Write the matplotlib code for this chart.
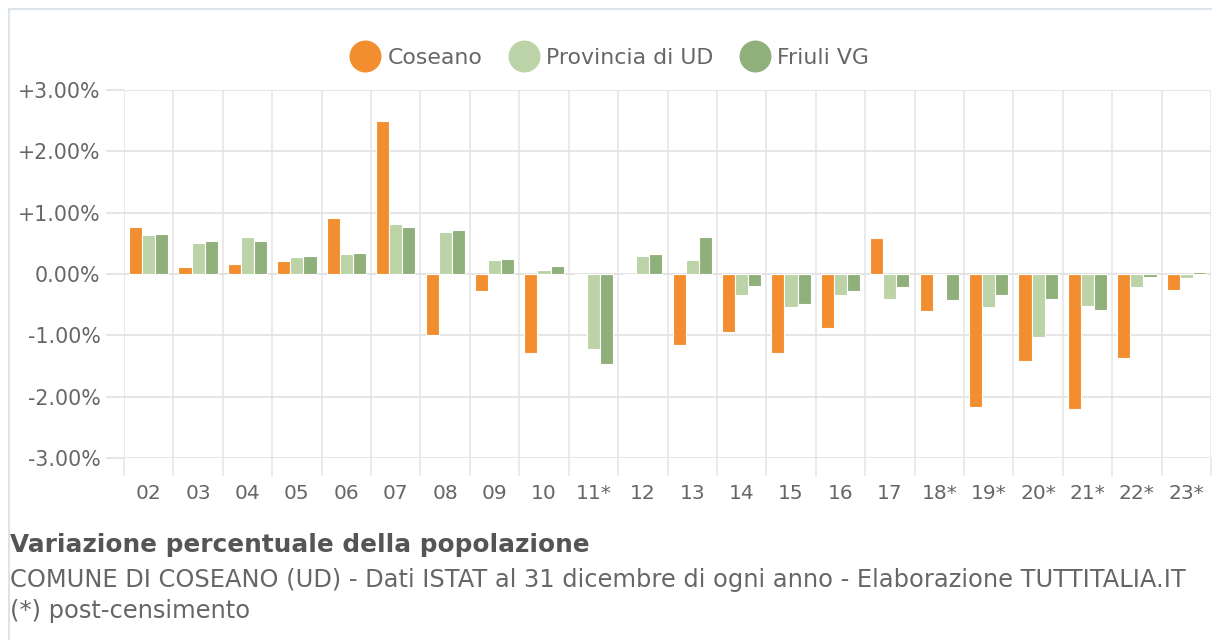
import numpy as np
import matplotlib.pyplot as plt
from matplotlib.lines import Line2D

plt.rcParams['font.family'] = ['DejaVu Sans']

# Anni (ultime due cifre), * = post-censimento
anni = ['02', '03', '04', '05', '06', '07', '08', '09', '10', '11*', '12',
        '13', '14', '15', '16', '17', '18*', '19*', '20*', '21*', '22*', '23*']

# Variazione percentuale della popolazione
coseano = [0.76, 0.12, 0.17, 0.21, 0.92, 2.50, -1.00, -0.27, -1.28, 0.0, 0.0,
           -1.16, -0.95, -1.28, -0.88, 0.59, -0.60, -2.17, -1.42, -2.20, -1.37, -0.26]
provincia_ud = [0.63, 0.51, 0.60, 0.28, 0.33, 0.82, 0.68, 0.23, 0.07, -1.22, 0.30,
                0.23, -0.34, -0.54, -0.35, -0.41, -0.02, -0.53, -1.02, -0.52, -0.22, -0.06]
friuli_vg = [0.66, 0.54, 0.53, 0.29, 0.35, 0.76, 0.71, 0.24, 0.13, -1.47, 0.33,
             0.60, -0.20, -0.49, -0.28, -0.21, -0.43, -0.35, -0.41, -0.59, -0.05, 0.03]

serie = ['Coseano', 'Provincia di UD', 'Friuli VG']
colori = ['#f28e2f', '#bcd3a8', '#8fb07a']

fig = plt.figure(figsize=(12.12, 6.4), dpi=100)
ax = fig.add_axes([124 / 1212, 1 - 458 / 640, (1211 - 124) / 1212, (458 - 90) / 640])

x = np.arange(len(anni))
w = 0.265
for i, (vals, c) in enumerate(zip([coseano, provincia_ud, friuli_vg], colori)):
    ax.bar(x + (i - 1) * w, vals, width=w, color=c, edgecolor='white',
           linewidth=0.8, zorder=3)

ax.set_xlim(-0.5, len(anni) - 0.5)
ax.set_ylim(-3, 3)
ax.set_yticks([-3, -2, -1, 0, 1, 2, 3])
ax.set_yticklabels(['%+.2f%%' % v if v != 0 else '0.00%' for v in [-3, -2, -1, 0, 1, 2, 3]])
ax.grid(axis='y', color='#e2e2e2', linewidth=1.2, zorder=0)
ax.axhline(0, color='#e4e4e4', linewidth=1.2, zorder=1)

# linee verticali tra le categorie, prolungate sotto l'asse
ax.set_xticks(np.arange(len(anni) + 1) - 0.5)
ax.set_xticklabels([])
ax.tick_params(axis='x', which='major', length=13, color='#e6e6e6', width=1.2)
ax.set_xticks(x, minor=True)
ax.set_xticklabels(anni, minor=True)
ax.tick_params(axis='x', which='minor', length=0, pad=19, labelsize=14.5, labelcolor='#666666')
ax.tick_params(axis='y', length=13, color='#e2e2e2', width=1.2, pad=4,
               labelsize=14.8, labelcolor='#666666')
for xv in ax.get_xticks():
    ax.axvline(xv, color='#e6e6e6', linewidth=1.2, zorder=0)
for s in ax.spines.values():
    s.set_visible(False)

# legenda
handles = [Line2D([], [], marker='o', linestyle='none', markersize=22,
                  markerfacecolor=c, markeredgecolor=c) for c in colori]
fig.legend(handles, serie, loc='center', bbox_to_anchor=(0.5, 1 - 58 / 640),
           ncol=3, frameon=False, fontsize=15.8, handletextpad=0.0,
           columnspacing=0.9, labelcolor='#666666')

# cornice
fig.add_artist(Line2D([9 / 1212, 9 / 1212], [0, 1 - 9 / 640], color='#dde3ea', linewidth=1.5))
fig.add_artist(Line2D([9 / 1212, 1], [1 - 9 / 640, 1 - 9 / 640], color='#dde3ea', linewidth=1.5))

fig.text(10 / 1212, 1 - 545 / 640, 'Variazione percentuale della popolazione',
         fontsize=17.8, fontweight='bold', color='#555555', va='center')
fig.text(10 / 1212, 1 - 580 / 640,
         'COMUNE DI COSEANO (UD) - Dati ISTAT al 31 dicembre di ogni anno - Elaborazione TUTTITALIA.IT',
         fontsize=17.4, color='#666666', va='center')
fig.text(10 / 1212, 1 - 611 / 640, '(*) post-censimento',
         fontsize=17.4, color='#666666', va='center')

fig.savefig('out.png', dpi=100, facecolor='white')
